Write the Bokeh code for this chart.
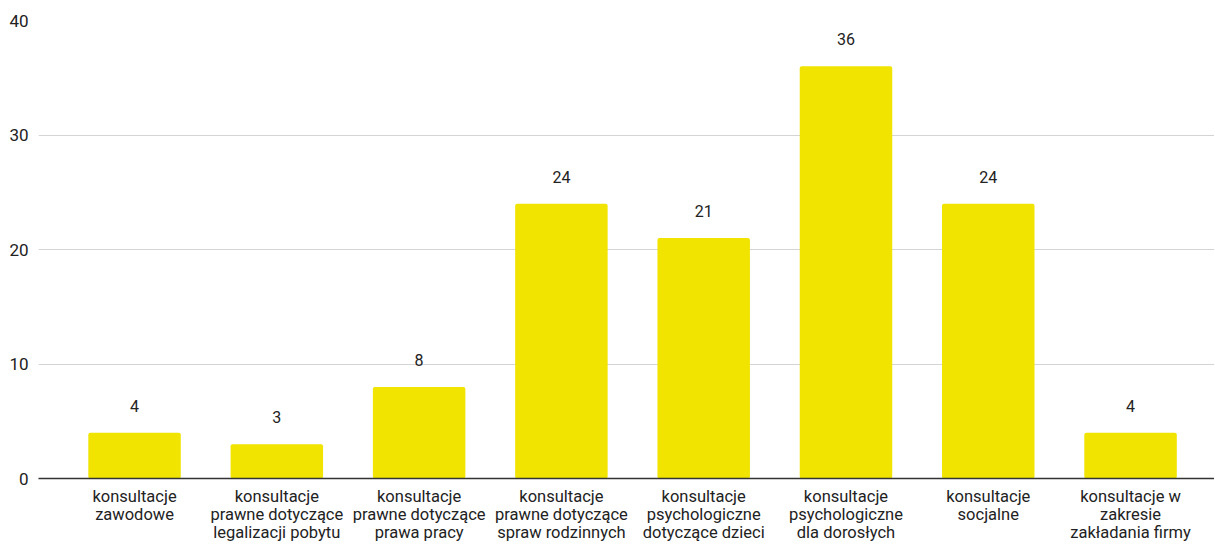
from bokeh.plotting import figure
from bokeh.models import ColumnDataSource, FixedTicker, Range1d
from bokeh.embed import file_html
from bokeh.resources import INLINE
from bokeh.core.properties import value

categories = [
    "konsultacje\nzawodowe",
    "konsultacje\nprawne dotyczące\nlegalizacji pobytu",
    "konsultacje\nprawne dotyczące\nprawa pracy",
    "konsultacje\nprawne dotyczące\nspraw rodzinnych",
    "konsultacje\npsychologiczne\ndotyczące dzieci",
    "konsultacje\npsychologiczne\ndla dorosłych",
    "konsultacje\nsocjalne",
    "konsultacje w\nzakresie\nzakładania firmy",
]
counts = [4, 3, 8, 24, 21, 36, 24, 4]
y_ticks = [0, 10, 20, 30, 40]

xs = list(range(len(categories)))
src = ColumnDataSource(dict(x=xs, top=counts, label=[str(c) for c in counts]))

p = figure(width=1214, height=544, output_backend="svg", toolbar_location=None,
           title=None,
           x_range=Range1d(-0.675, 7.59), y_range=Range1d(0, 40),
           min_border_left=38, min_border_right=0, min_border_top=20, min_border_bottom=0)
p.outline_line_color = None
p.background_fill_color = "white"

p.vbar(x="x", top="top", width=0.65, source=src, fill_color="#f0e400",
       line_color=None, border_radius=2)
p.text(x="x", y="top", text="label", source=src, text_align="center",
       text_baseline="middle", y_offset=-27, text_font=value("Roboto"),
       text_font_size="16px", text_color="#222222")

p.yaxis.ticker = FixedTicker(ticks=y_ticks)
p.yaxis.axis_line_color = None
p.yaxis.major_tick_line_color = None
p.yaxis.minor_tick_line_color = None
p.yaxis.major_tick_out = 0
p.yaxis.major_tick_in = 0
p.yaxis.major_label_text_font = "Roboto"
p.yaxis.major_label_text_font_size = "17px"
p.yaxis.major_label_text_color = "#222222"
p.yaxis.major_label_standoff = 10
p.yaxis.axis_label = None

p.xaxis.ticker = FixedTicker(ticks=xs)
p.xaxis.major_label_overrides = {i: c for i, c in zip(xs, categories)}
p.xaxis.axis_line_color = "#333333"
p.xaxis.axis_line_width = 1.5
p.xaxis.major_tick_line_color = None
p.xaxis.minor_tick_line_color = None
p.xaxis.major_tick_out = 0
p.xaxis.major_tick_in = 0
p.xaxis.major_label_text_font = "Roboto"
p.xaxis.major_label_text_font_size = "16.5px"
p.xaxis.major_label_text_line_height = 0.95
p.xaxis.major_label_text_color = "#222222"
p.xaxis.major_label_standoff = 8
p.xaxis.axis_label = None
p.xaxis.axis_label_standoff = 0

p.xgrid.grid_line_color = None
p.ygrid.grid_line_color = "#d4d4d4"
p.ygrid.ticker = FixedTicker(ticks=y_ticks)

open("out.html", "w").write(file_html(p, INLINE))
